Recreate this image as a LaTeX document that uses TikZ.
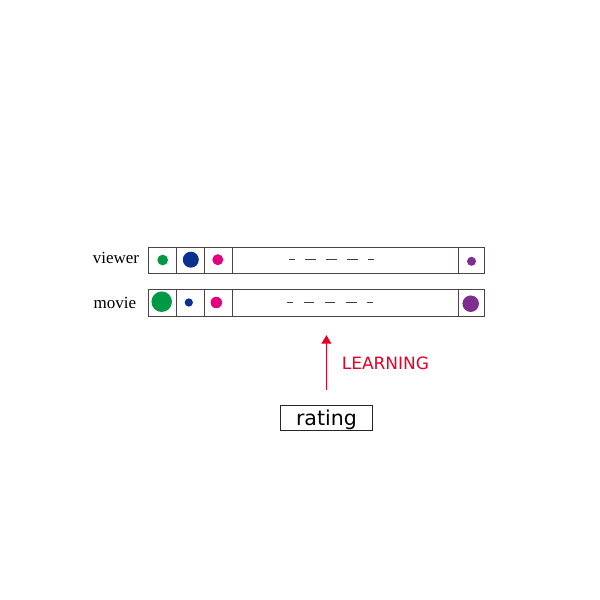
\documentclass[tikz,border=0pt]{standalone}
\usepackage{fontspec}
\setmainfont{Liberation Serif}
\newfontfamily\dvsans{DejaVu Sans}
\usetikzlibrary{arrows.meta}

\definecolor{boxgray}{HTML}{4A4446}
\definecolor{dotgreen}{HTML}{009A46}
\definecolor{dotblue}{HTML}{0B318F}
\definecolor{dotpink}{HTML}{E4007F}
\definecolor{dotpurple}{HTML}{7D2E8F}
\definecolor{learnred}{HTML}{E60023}

\begin{document}
\begin{tikzpicture}[x=1pt, y=-1pt,
	cell/.style={draw=boxgray, line width=0.9pt, inner sep=0pt},
	dot/.style={circle, fill=#1, inner sep=0pt},
	rowname/.style={anchor=base west, inner sep=0pt, font=\fontsize{17}{20}\selectfont},
	learn/.style={draw=learnred, line width=1pt, -{Triangle[length=8.5pt, width=9.9pt]}},
	gap/.style={line width=1.1pt, draw=black!75}]

	\useasboundingbox (0,0) rectangle (600,600);

	% viewer row
	\node [rowname] (vwname) at (92.7, 263.3) {viewer};
	\node [cell, minimum width=28.5pt, minimum height=26.5pt] (vw1) at (162.25, 260.3) {};
	\node [cell, minimum width=28pt, minimum height=26.5pt] (vw2) at (190.5, 260.3) {};
	\node [cell, minimum width=28.2pt, minimum height=26.5pt] (vw3) at (218.6, 260.3) {};
	\node [cell, minimum width=225.3pt, minimum height=26.5pt] (vw4) at (345.35, 260.3) {};
	\node [cell, minimum width=26pt, minimum height=26.5pt] (vw5) at (471, 260.3) {};

	\node [dot=dotgreen, minimum size=10.7pt] (vwd1) at (162.7, 260) {};
	\node [dot=dotblue, minimum size=16pt] (vwd2) at (190.8, 259.7) {};
	\node [dot=dotpink, minimum size=11pt] (vwd3) at (217.8, 259.7) {};
	\node [dot=dotpurple, minimum size=9pt] (vwd5) at (471.5, 261.3) {};

	% movie row
	\node [rowname] (mvname) at (93.5, 308.3) {movie};
	\node [cell, minimum width=28.5pt, minimum height=27pt] (mv1) at (162.25, 303) {};
	\node [cell, minimum width=28pt, minimum height=27pt] (mv2) at (190.5, 303) {};
	\node [cell, minimum width=28.2pt, minimum height=27pt] (mv3) at (218.6, 303) {};
	\node [cell, minimum width=225.3pt, minimum height=27pt] (mv4) at (345.35, 303) {};
	\node [cell, minimum width=26pt, minimum height=27pt] (mv5) at (471, 303) {};

	\node [dot=dotgreen, minimum size=20.5pt] (mvd1) at (161.7, 301.7) {};
	\node [dot=dotblue, minimum size=8.3pt] (mvd2) at (188.8, 302.5) {};
	\node [dot=dotpink, minimum size=11.5pt] (mvd3) at (216.3, 302.5) {};
	\node [dot=dotpurple, minimum size=16.5pt] (mvd5) at (470.7, 303.7) {};

	% the dashes in the long cells
	\foreach \a/\b in {288.7/295, 305.3/316, 326.3/337, 347/358, 368.3/374.3}
		\draw [gap] (\a, 259.6) -- (\b, 259.6);
	\foreach \a/\b in {287.3/293.3, 304/314.3, 325/335.3, 345.7/356.7, 366.7/373}
		\draw [gap] (\a, 302.6) -- (\b, 302.6);

	% rating and learning
	\node [draw=black!85, line width=0.9pt, inner sep=0pt, minimum width=92.7pt, minimum height=24.6pt,
		text height=15.4pt, text depth=0pt, font=\dvsans\fontsize{20.5}{24}\selectfont] (rating) at (326.4, 418) {rating};
	\draw [learn, shorten <=15.4pt, shorten >=18.2pt] (rating.north) -- (rating.north |- mv4.south);
	\node [anchor=base west, inner sep=0pt, text=learnred, font=\dvsans\fontsize{17}{20}\selectfont] (learning) at (341.6, 369) {LEARNING};

\end{tikzpicture}
\end{document}
